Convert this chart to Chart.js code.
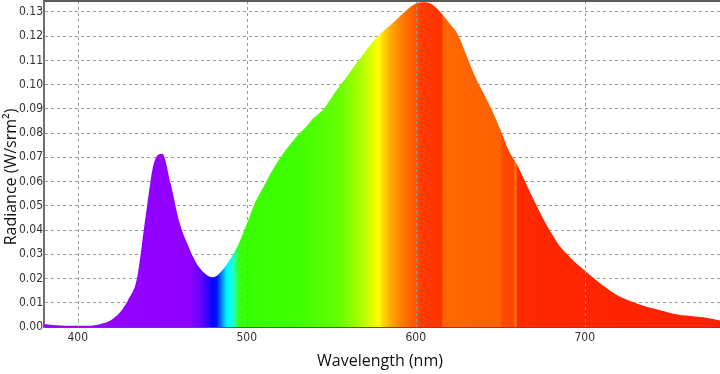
<!DOCTYPE html>
<html lang="en">

<head>
    <meta charset="UTF-8">
    <title>Spectrum</title>
    <script src="https://cdn.jsdelivr.net/npm/chart.js"></script>
    <style>
        html, body { margin: 0; padding: 0; background: #fff; overflow: hidden; }
        #spectrum { display: block; }
    </style>
</head>

<body>
    <canvas id="spectrum" width="720" height="374"></canvas>
    <script>
        // wavelength (nm), every 5 nm
        const wavelengths = [
            380, 385, 390, 395, 400, 405, 410, 415, 420, 425,
            430, 435, 440, 445, 450, 455, 460, 465, 470, 475,
            480, 485, 490, 495, 500, 505, 510, 515, 520, 525,
            530, 535, 540, 545, 550, 555, 560, 565, 570, 575,
            580, 585, 590, 595, 600, 605, 610, 615, 620, 625,
            630, 635, 640, 645, 650, 655, 660, 665, 670, 675,
            680, 685, 690, 695, 700, 705, 710, 715, 720, 725,
            730, 735, 740, 745, 750, 755, 760, 765, 770, 775, 780
        ];
        // radiance (W/srm²)
        const radiance = [
            0.0012, 0.0008, 0.0006, 0.0005, 0.0005, 0.0005, 0.0007, 0.0015, 0.0030, 0.0061,
            0.0115, 0.0200, 0.0450, 0.0675, 0.0715, 0.0590, 0.0435, 0.0340, 0.0265, 0.0222,
            0.0205, 0.0230, 0.0278, 0.0340, 0.0425, 0.0515, 0.0580, 0.0645, 0.0700, 0.0748,
            0.0790, 0.0825, 0.0865, 0.0895, 0.0945, 0.0995, 0.1040, 0.1090, 0.1135, 0.1180,
            0.1215, 0.1245, 0.1278, 0.1310, 0.1335, 0.1340, 0.1330, 0.1295, 0.1252, 0.1205,
            0.1120, 0.1035, 0.0965, 0.0895, 0.0815, 0.0728, 0.0668, 0.0595, 0.0522, 0.0452,
            0.0390, 0.0335, 0.0297, 0.0262, 0.0233, 0.0203, 0.0175, 0.0150, 0.0128, 0.0112,
            0.0099, 0.0087, 0.0077, 0.0068, 0.0059, 0.0052, 0.0047, 0.0043, 0.0040, 0.0034, 0.0027
        ];
        const xTicks = [400, 500, 600, 700];
        const yTicks = [0.00, 0.01, 0.02, 0.03, 0.04, 0.05, 0.06, 0.07, 0.08, 0.09, 0.10, 0.11, 0.12, 0.13];

        // colour of the fill along the wavelength axis
        const spectrumStops = [
            [380, '#9600ff'], [466, '#9000ff'], [474, '#5a00ff'], [479, '#1000ff'], [482, '#0010ff'],
            [485, '#0080ff'], [488, '#00f0ff'], [490, '#00ffff'], [492, '#20ffc0'], [495, '#30ff30'],
            [497, '#38ff00'], [530, '#40ff00'], [555, '#66ff00'], [568, '#b0ff00'], [576, '#f0ff00'],
            [578, '#ffff00'], [580, '#ffe000'], [585, '#ffaa00'], [592, '#ff7a00'], [597, '#ff6000'],
            [601, '#ff5000'], [603, '#ff3a00'], [615.5, '#ff3300'], [616, '#ff6600'], [650, '#ff6200'],
            [651, '#ff4a00'], [658, '#ff4400'], [658.6, '#ff7700'], [659.4, '#ff7700'], [660, '#ff2800'],
            [780, '#ff2000']
        ];

        const xMin = 380, xMax = 780;
        const labelFont = { family: "'Liberation Sans Narrow', 'DejaVu Sans Condensed', 'Liberation Sans', sans-serif", size: 12 };
        const titleFont = "16px 'Open Sans', 'Noto Sans', sans-serif";

        function spectrumFill(context) {
            const chart = context.chart;
            if (!chart.chartArea) return '#9600ff';
            const xs = chart.scales.x;
            const x0 = xs.getPixelForValue(xMin), x1 = xs.getPixelForValue(xMax);
            const g = chart.ctx.createLinearGradient(x0, 0, x1, 0);
            spectrumStops.forEach(([nm, c]) => g.addColorStop((nm - xMin) / (xMax - xMin), c));
            return g;
        }

        // vertical grid over the fill, frame on top, axis titles
        const overlay = {
            id: 'overlay',
            afterDatasetsDraw(chart) {
                const { ctx, chartArea, scales } = chart;
                ctx.save();
                ctx.strokeStyle = '#9a9a9a';
                ctx.lineWidth = 1;
                ctx.setLineDash([3, 3]);
                xTicks.forEach(v => {
                    const x = Math.round(scales.x.getPixelForValue(v)) + 0.5;
                    ctx.beginPath();
                    ctx.moveTo(x, chartArea.top);
                    ctx.lineTo(x, chartArea.bottom);
                    ctx.stroke();
                });
                ctx.setLineDash([]);
                ctx.strokeStyle = '#5a5a5a';
                ctx.lineWidth = 2;
                ctx.beginPath();
                ctx.moveTo(chartArea.left, chartArea.top);
                ctx.lineTo(chartArea.right, chartArea.top);
                ctx.stroke();
                ctx.restore();
            },
            afterDraw(chart) {
                const { ctx } = chart;
                ctx.save();
                ctx.fillStyle = '#111';
                ctx.font = titleFont;
                ctx.textAlign = 'center';
                ctx.textBaseline = 'middle';
                ctx.fillText('Wavelength (nm)', 380, 361);
                ctx.translate(11, 177);
                ctx.rotate(-Math.PI / 2);
                ctx.fillText('Radiance (W/srm²)', 0, 0);
                ctx.restore();
            }
        };

        const ctx = document.getElementById('spectrum').getContext('2d');
        new Chart(ctx, {
            type: 'line',
            data: {
                datasets: [{
                    data: wavelengths.map((w, i) => ({ x: w, y: radiance[i] })),
                    fill: 'origin',
                    backgroundColor: spectrumFill,
                    borderWidth: 0,
                    pointRadius: 0,
                    cubicInterpolationMode: 'monotone'
                }]
            },
            options: {
                responsive: false,
                animation: false,
                devicePixelRatio: 1,
                layout: { padding: { top: 1, right: 0, left: 0, bottom: 0 } },
                plugins: { legend: { display: false }, tooltip: { enabled: false } },
                scales: {
                    x: {
                        type: 'linear',
                        min: xMin,
                        max: xMax,
                        afterFit: s => { s.height = 47; s.paddingLeft = 0; s.paddingRight = 0; },
                        afterBuildTicks: s => { s.ticks = xTicks.map(v => ({ value: v })); },
                        ticks: { font: labelFont, color: '#333', padding: 4, maxRotation: 0 },
                        grid: { display: false, drawTicks: false },
                        border: { color: '#555', width: 2 }
                    },
                    y: {
                        min: 0,
                        max: 0.1345,
                        afterFit: s => { s.width = 44; s.paddingTop = 0; s.paddingBottom = 0; },
                        afterBuildTicks: s => { s.ticks = yTicks.map(v => ({ value: v })); },
                        ticks: { font: labelFont, color: '#333', padding: 1, callback: v => v.toFixed(2) },
                        grid: { color: '#9a9a9a', drawTicks: false, tickBorderDash: [0] },
                        border: { color: '#707070', width: 2, dash: [3, 3] }
                    }
                }
            },
            plugins: [overlay]
        });
    </script>
</body>

</html>
